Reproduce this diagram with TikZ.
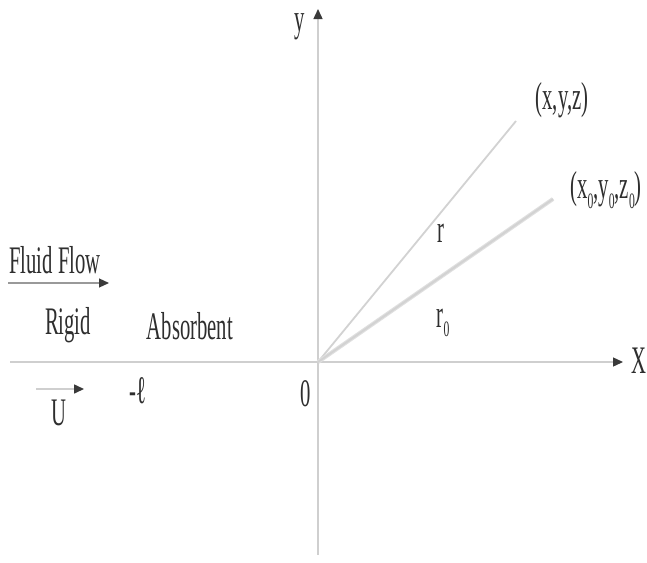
\documentclass[tikz,border=0pt]{standalone}
\usepackage{fontspec}
\setmainfont[FakeStretch=0.53]{Liberation Serif}
\usetikzlibrary{arrows.meta}
\definecolor{axisgray}{HTML}{CFCFCF}
\definecolor{raygray}{HTML}{D2D2D2}
\definecolor{headgray}{HTML}{3A3A3A}
\definecolor{txtgray}{HTML}{2E2E2E}
\tikzset{
  axis/.style={draw=axisgray, line width=1.4pt},
  ray/.style={draw=raygray, line width=1.8pt},
  headarrow/.style={-{Triangle[length=10pt,width=9pt,color=headgray]}},
  lbl/.style={inner sep=0pt, text=txtgray, font=\fontsize{39}{40}\selectfont},
}
\newcommand{\sbz}{\raisebox{-0.25em}{\fontsize{22}{22}\selectfont 0}}
\begin{document}
\begin{tikzpicture}[x=1pt,y=-1pt]
\useasboundingbox (0,0) rectangle (647,562);
\fill[white] (0,0) rectangle (647,562);
% coordinates
\coordinate (O) at (318,362);
\coordinate (xl) at (10,362);
\coordinate (xr) at (623,362);
\coordinate (yb) at (318,555);
\coordinate (yt) at (318,9);
\coordinate (P) at (516,121);
\coordinate (P0) at (553,199);
\coordinate (ffa) at (8,283);
\coordinate (ffb) at (109,283);
\coordinate (ua) at (36,389);
\coordinate (ub) at (84,389);
% axes
\draw[axis] (xl) -- (O);
\draw[axis, headarrow] (O) -- (xr);
\draw[axis] (O) -- (yb);
\draw[axis, headarrow] (O) -- (yt);
% rays
\draw[ray] (O) -- (P);
\draw[draw=raygray!70, line width=4pt] (O) -- (P0);
\draw[ray] (O) -- (P0);
% flow arrows
\draw[draw=gray!80, line width=1.2pt, headarrow] (ffa) -- (ffb);
\draw[draw=axisgray, line width=1.6pt, headarrow] (ua) -- (ub);
% labels
\node[lbl, anchor=base] (ylab) at (300,31) {y};
\node[lbl] (xlab) at (639,361) {X};
\node[lbl] (plab) at (562,100) {(x,y,z)};
\node[lbl] (p0lab) at (606,190) {(x\sbz,y\sbz,z\sbz)};
\node[lbl] (rlab) at (441,233) {r};
\node[lbl] (r0lab) at (443,323) {r\sbz};
\node[lbl] (fflab) at (55,260) {Fluid Flow};
\node[lbl] (rigid) at (68,325) {Rigid};
\node[lbl] (absorb) at (190,326) {Absorbent};
\node[lbl] (ulab) at (59,413) {U};
\node[lbl] (elllab) at (138,391) {-ℓ};
\node[lbl] (zerolab) at (306,394) {0};
\end{tikzpicture}
\end{document}
